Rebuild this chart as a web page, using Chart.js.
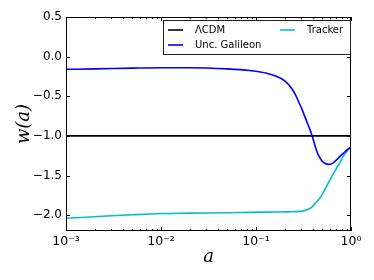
<!DOCTYPE html>
<html>
<head>
<meta charset="utf-8">
<script src="https://cdn.jsdelivr.net/npm/chart.js@4/dist/chart.umd.min.js"></script>
<style>
html,body{margin:0;padding:0;background:#fff;}
#wrap{width:374px;height:280px;position:relative;}
</style>
</head>
<body>
<div id="wrap"><canvas id="c" width="374" height="280"></canvas></div>
<script>
const scaleFactor = [0.001, 0.002, 0.005, 0.01, 0.02, 0.05, 0.086, 0.13, 0.18, 0.205, 0.23, 0.255, 0.28, 0.305, 0.33, 0.36, 0.39, 0.435, 0.46, 0.49, 0.53, 0.58, 0.62, 0.65, 0.71, 0.77, 0.83, 0.9, 1.0];
const lcdm = [-1, -1, -1, -1, -1, -1, -1, -1, -1, -1, -1, -1, -1, -1, -1, -1, -1, -1, -1, -1, -1, -1, -1, -1, -1, -1, -1, -1, -1];
const galileon = [-0.16, -0.155, -0.145, -0.14, -0.14, -0.155, -0.176, -0.21, -0.27, -0.315, -0.38, -0.46, -0.565, -0.665, -0.77, -0.885, -1.0, -1.19, -1.255, -1.31, -1.345, -1.36, -1.355, -1.34, -1.30, -1.255, -1.22, -1.18, -1.14];
const tracker = [-2.04, -2.02, -1.995, -1.98, -1.975, -1.97, -1.965, -1.962, -1.96, -1.959, -1.958, -1.956, -1.952, -1.947, -1.94, -1.922, -1.895, -1.83, -1.80, -1.75, -1.68, -1.59, -1.525, -1.48, -1.40, -1.33, -1.256, -1.20, -1.14];
const xTicks = [0.001, 0.01, 0.1, 1];
const xTickLabels = ['10\u207B\u00B3', '10\u207B\u00B2', '10\u207B\u00B9', '10\u2070'];
const yTicks = [0.5, 0.0, -0.5, -1.0, -1.5, -2.0];
const seriesNames = ['\u039BCDM', 'Unc. Galileon', 'Tracker'];
const seriesColors = ['#000000', '#0000ff', '#00bfbf'];

const pts = arr => scaleFactor.map((a, i) => ({x: a, y: arr[i]}));

const framePlugin = {
  id: 'frame',
  afterDatasetsDraw(chart) {
    const {ctx, chartArea: ca, scales} = chart;
    const xs = scales.x, ys = scales.y;
    ctx.save();
    ctx.strokeStyle = '#000';
    ctx.lineWidth = 1;
    ctx.strokeRect(ca.left + 0.5, ca.top + 0.5, ca.right - ca.left - 1, ca.bottom - ca.top - 1);
    ctx.beginPath();
    for (let d = -3; d <= 0; d++) {
      for (let m = 1; m <= 9; m++) {
        const v = m * Math.pow(10, d);
        if (v > 1.0001) break;
        const px = Math.round(xs.getPixelForValue(v)) + 0.5;
        const len = m === 1 ? 4 : 2;
        ctx.moveTo(px, ca.bottom); ctx.lineTo(px, ca.bottom - len);
        ctx.moveTo(px, ca.top); ctx.lineTo(px, ca.top + len);
      }
    }
    yTicks.forEach(v => {
      const py = Math.round(ys.getPixelForValue(v)) + 0.5;
      ctx.moveTo(ca.left, py); ctx.lineTo(ca.left + 4, py);
      ctx.moveTo(ca.right, py); ctx.lineTo(ca.right - 4, py);
    });
    ctx.stroke();
    const lx = 163.5, ly = 20.5, lw = 187, lh = 34;
    ctx.fillStyle = '#fff';
    ctx.fillRect(lx, ly, lw, lh);
    ctx.strokeStyle = '#222';
    ctx.strokeRect(lx, ly, lw, lh);
    ctx.font = '10px "DejaVu Sans"';
    ctx.textBaseline = 'middle';
    ctx.fillStyle = '#000';
    const entries = [
      {x: 168, y: 30, i: 0},
      {x: 168, y: 45, i: 1},
      {x: 280, y: 30, i: 2}
    ];
    entries.forEach(e => {
      ctx.strokeStyle = seriesColors[e.i];
      ctx.lineWidth = 1.6;
      ctx.beginPath();
      ctx.moveTo(e.x, e.y); ctx.lineTo(e.x + 15, e.y);
      ctx.stroke();
      ctx.fillText(seriesNames[e.i], e.x + 27, e.y);
    });
    ctx.restore();
  }
};

new Chart(document.getElementById('c'), {
  type: 'line',
  data: {
    datasets: [
      {label: seriesNames[0], data: pts(lcdm), borderColor: seriesColors[0]},
      {label: seriesNames[1], data: pts(galileon), borderColor: seriesColors[1]},
      {label: seriesNames[2], data: pts(tracker), borderColor: seriesColors[2]}
    ].map(d => Object.assign(d, {borderWidth: 1.6, pointRadius: 0, cubicInterpolationMode: 'monotone', fill: false}))
  },
  options: {
    responsive: false,
    animation: false,
    events: [],
    layout: {padding: {top: 17, right: 23, left: 0, bottom: 0}},
    plugins: {legend: {display: false}, tooltip: {enabled: false}},
    scales: {
      x: {
        type: 'logarithmic',
        min: 0.001, max: 1,
        grid: {display: false, drawTicks: false},
        border: {display: false},
        afterBuildTicks: s => { s.ticks = xTicks.map(v => ({value: v})); },
        afterFit: s => { s.height = 49; },
        ticks: {
          color: '#000',
          font: {family: 'DejaVu Sans', size: 12.5},
          padding: 3,
          maxRotation: 0,
          autoSkip: false,
          callback: (v) => { const i = xTicks.findIndex(t => Math.abs(t - v) < 1e-9); return i >= 0 ? xTickLabels[i] : ''; }
        },
        title: {display: true, text: 'a', color: '#000', font: {family: 'DejaVu Serif', style: 'italic', weight: 'normal', size: 18}, padding: {top: 0, bottom: 12}}
      },
      y: {
        min: -2.2, max: 0.5,
        grid: {display: false, drawTicks: false},
        border: {display: false},
        afterBuildTicks: s => { s.ticks = yTicks.map(v => ({value: v})); },
        afterFit: s => { s.width = 66; },
        ticks: {
          color: '#000',
          font: {family: 'DejaVu Sans', size: 12},
          padding: 4,
          callback: v => (v < 0 ? '\u2212' : '') + Math.abs(v).toFixed(1)
        },
        title: {display: true, text: 'w(a)', color: '#000', font: {family: 'DejaVu Serif', style: 'italic', weight: 'normal', size: 18}, padding: {top: 14, bottom: 0}}
      }
    }
  },
  plugins: [framePlugin]
});
</script>
</body>
</html>
